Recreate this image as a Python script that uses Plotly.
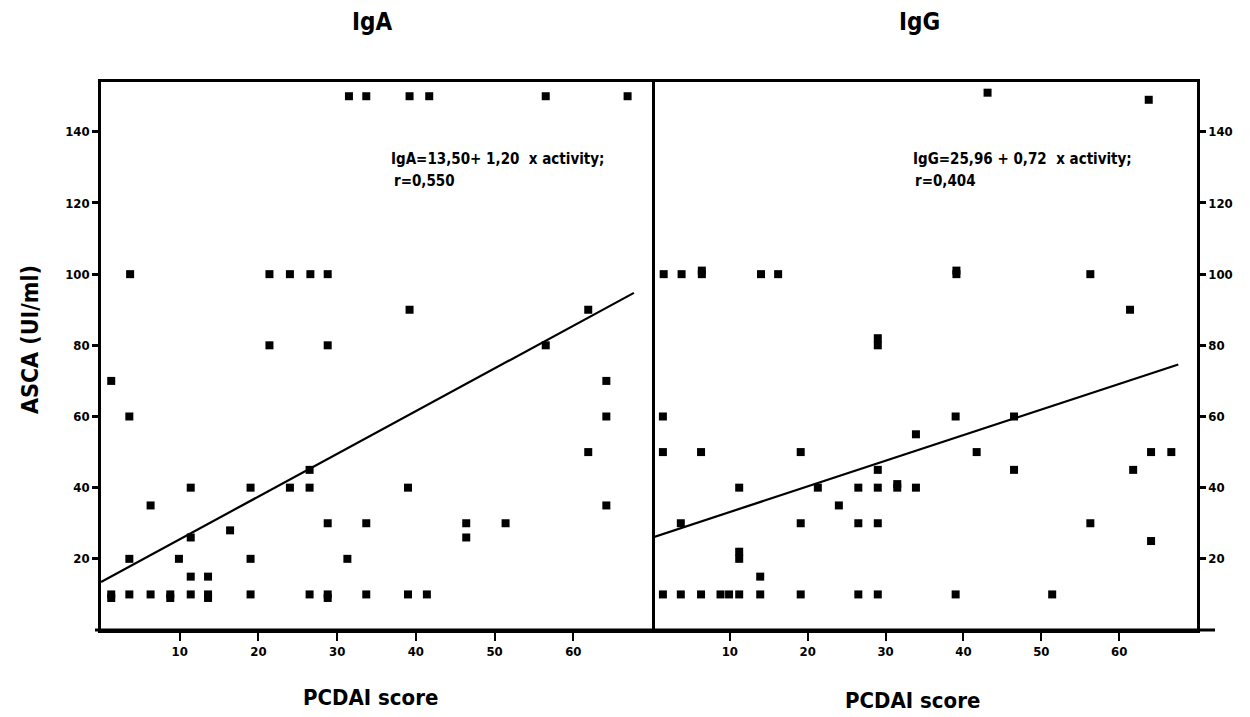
import numpy as np
import plotly.graph_objects as go

# ---------------- data ----------------
iga_x = [31.5, 33.7, 39.2, 41.7, 56.5, 66.9,
         3.7, 21.4, 24.0, 26.6, 28.8,
         39.2, 61.9,
         21.4, 28.8, 56.5,
         1.3, 64.2,
         3.6, 64.2,
         61.9,
         26.5,
         11.4, 19.0, 24.0, 26.5, 39.0,
         6.3, 64.2,
         28.8, 33.7, 46.4, 51.4,
         16.4,
         11.4, 46.4,
         3.6, 9.9, 19.0, 31.3,
         11.4, 13.6,
         1.3, 1.3, 3.6, 6.3, 8.8, 8.8, 11.4, 13.6, 13.6, 19.0, 26.5, 28.8, 28.8, 33.7, 39.0, 41.4]
iga_y = [150, 150, 150, 150, 150, 150,
         100, 100, 100, 100, 100,
         90, 90,
         80, 80, 80,
         70, 70,
         60, 60,
         50,
         45,
         40, 40, 40, 40, 40,
         35, 35,
         30, 30, 30, 30,
         28,
         26, 26,
         20, 20, 20, 20,
         15, 15,
         10, 9, 10, 10, 10, 9, 10, 10, 9, 10, 10, 10, 9, 10, 10, 10]

igg_x = [43.1, 63.8,
         1.5, 3.8, 6.4, 6.4, 14.0, 16.2, 39.1, 39.1, 56.3,
         61.4,
         29.0, 29.0,
         1.4, 39.0, 46.5,
         33.9,
         1.4, 6.3, 19.1, 41.7, 64.1, 66.7,
         29.0, 46.5, 61.8,
         31.5, 11.2, 21.3, 26.5, 29.0, 31.5, 33.9,
         24.0,
         3.7, 19.1, 26.5, 29.0, 56.3,
         64.1,
         11.2, 11.2,
         13.9,
         1.4, 3.7, 6.3, 8.8, 9.9, 11.2, 13.9, 19.1, 26.5, 29.0, 39.0, 51.4]
igg_y = [151, 149,
         100, 100, 100, 101, 100, 100, 100, 101, 100,
         90,
         82, 80,
         60, 60, 60,
         55,
         50, 50, 50, 50, 50, 50,
         45, 45, 45,
         41, 40, 40, 40, 40, 40, 40,
         35,
         30, 30, 30, 30, 30,
         25,
         22, 20,
         15,
         10, 10, 10, 10, 10, 10, 10, 10, 10, 10, 10, 10]

# regression (from the printed equations)
iga_intercept, iga_slope, iga_xmax = 13.50, 1.20, 67.7
igg_intercept, igg_slope, igg_xmax = 25.96, 0.72, 67.6

x_ticks = [10, 20, 30, 40, 50, 60]
y_ticks = [20, 40, 60, 80, 100, 120, 140]

FONT = "DejaVu Sans Condensed, Liberation Sans Narrow, Arial Narrow, sans-serif"

fig = go.Figure()

mk = dict(symbol="square", size=8, color="black")
fig.add_trace(go.Scatter(x=iga_x, y=iga_y, mode="markers", marker=mk,
                         xaxis="x", yaxis="y", showlegend=False))
fig.add_trace(go.Scatter(x=igg_x, y=igg_y, mode="markers", marker=mk,
                         xaxis="x2", yaxis="y2", showlegend=False))

lx1 = np.linspace(0, iga_xmax, 50)
fig.add_trace(go.Scatter(x=lx1, y=iga_intercept + iga_slope * lx1, mode="lines",
                         line=dict(color="black", width=2.2),
                         xaxis="x", yaxis="y", showlegend=False))
lx2 = np.linspace(0, igg_xmax, 50)
fig.add_trace(go.Scatter(x=lx2, y=igg_intercept + igg_slope * lx2, mode="lines",
                         line=dict(color="black", width=2.2),
                         xaxis="x2", yaxis="y2", showlegend=False))

split = 551 / 1096
tickfont = dict(family=FONT, size=13, color="black", weight="bold")

xcommon = dict(range=[0, 70], tickvals=x_ticks, ticks="outside", ticklen=8,
               tickwidth=2, tickcolor="black", showline=True, linewidth=2.5,
               linecolor="black", mirror=True, showgrid=False, zeroline=False,
               tickfont=tickfont)
ycommon = dict(range=[0, 154], tickvals=y_ticks, ticks="outside", ticklen=6,
               tickwidth=3, tickcolor="black", showline=True, linewidth=2.5,
               linecolor="black", showgrid=False, zeroline=False,
               tickfont=tickfont)

fig.update_layout(
    width=1250, height=717,
    margin=dict(l=101, r=53, t=82, b=87),
    paper_bgcolor="white", plot_bgcolor="white",
    xaxis=dict(domain=[0, split], anchor="y", **xcommon),
    xaxis2=dict(domain=[split, 1], anchor="y2", **xcommon),
    yaxis=dict(anchor="x", side="left", mirror=True, **ycommon),
    yaxis2=dict(anchor="x2", side="right", mirror=False, **ycommon),
)

def px2x(px):
    return (px - 101) / 1096

def py2y(py):
    return (630 - py) / 548

# bottom axis line extends slightly beyond the frames
fig.add_shape(type="line", xref="paper", yref="paper",
              x0=px2x(95), x1=px2x(1215), y0=0, y1=0,
              line=dict(color="black", width=3))

ann = []
def add(text, px, py, size, xanchor="center", angle=0):
    ann.append(dict(text=text, x=px2x(px), y=py2y(py), xref="paper", yref="paper",
                    showarrow=False, xanchor=xanchor, yanchor="middle",
                    textangle=angle,
                    font=dict(family=FONT, size=size, color="black", weight="bold")))

add("IgA", 372, 22, 24)
add("IgG", 919, 22, 24)
add("ASCA (UI/ml)", 30, 340, 23, angle=-90)
add("PCDAI score", 370, 697, 22)
add("PCDAI score", 912, 700, 22)
add("IgA=13,50+ 1,20  x activity;", 389, 159, 15, xanchor="left")
add("r=0,550", 392, 181, 15, xanchor="left")
add("IgG=25,96 + 0,72  x activity;", 911, 159, 15, xanchor="left")
add("r=0,404", 913, 181, 15, xanchor="left")

fig.update_layout(annotations=ann)

fig.write_html("out.html")
